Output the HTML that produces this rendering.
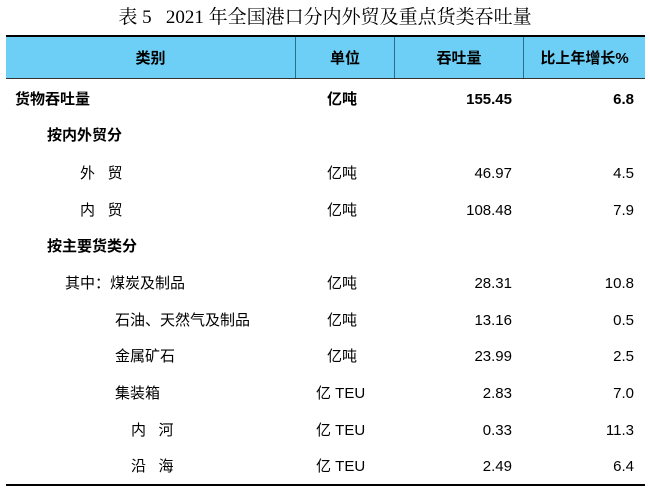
<!DOCTYPE html>
<html><head><meta charset="utf-8"><style>
body{margin:0;width:650px;height:493px;background:#fff;position:relative;overflow:hidden;font-family:"Liberation Sans","Noto Sans CJK SC",sans-serif;color:#000}
.t{position:absolute;white-space:nowrap;font-size:15px;line-height:18px}
.b{font-weight:bold}
.r{text-align:right}
</style></head><body>
<div class="t" style="left:0;width:650px;top:6px;text-align:center;font-family:'Liberation Serif','Noto Serif CJK SC',serif;font-size:19px;line-height:24px">表 5&nbsp;&nbsp;&nbsp;2021 年全国港口分内外贸及重点货类吞吐量</div>
<div style="position:absolute;left:6px;top:35px;width:639px;height:2px;background:#000"></div>
<div style="position:absolute;left:6px;top:37px;width:639px;height:42px;background:#6dcff6"></div>
<div style="position:absolute;left:295px;top:37px;width:1px;height:42px;background:#2a6f8a"></div>
<div style="position:absolute;left:394px;top:37px;width:1px;height:42px;background:#2a6f8a"></div>
<div style="position:absolute;left:523px;top:37px;width:1px;height:42px;background:#2a6f8a"></div>
<div class="t b" style="left:6px;width:289px;top:50px;text-align:center">类别</div>
<div class="t b" style="left:296px;width:98px;top:50px;text-align:center">单位</div>
<div class="t b" style="left:395px;width:128px;top:50px;text-align:center">吞吐量</div>
<div class="t b" style="left:524px;width:121px;top:50px;text-align:center">比上年增长%</div>
<div style="position:absolute;left:6px;top:78px;width:639px;height:1px;background:#333"></div>

<div class="t b" style="left:15px;top:91px">货物吞吐量</div>
<div class="t b" style="left:327px;top:91px">亿吨</div>
<div class="t b r" style="right:138px;top:91px">155.45</div>
<div class="t b r" style="right:16px;top:91px">6.8</div>

<div class="t b" style="left:47px;top:127px">按内外贸分</div>

<div class="t" style="left:80px;top:165px">外&nbsp;&nbsp;&nbsp;贸</div>
<div class="t" style="left:327px;top:165px">亿吨</div>
<div class="t r" style="right:138px;top:165px">46.97</div>
<div class="t r" style="right:16px;top:165px">4.5</div>

<div class="t" style="left:80px;top:202px">内&nbsp;&nbsp;&nbsp;贸</div>
<div class="t" style="left:327px;top:202px">亿吨</div>
<div class="t r" style="right:138px;top:202px">108.48</div>
<div class="t r" style="right:16px;top:202px">7.9</div>

<div class="t b" style="left:47px;top:238px">按主要货类分</div>

<div class="t" style="left:65px;top:275px">其中：煤炭及制品</div>
<div class="t" style="left:327px;top:275px">亿吨</div>
<div class="t r" style="right:138px;top:275px">28.31</div>
<div class="t r" style="right:16px;top:275px">10.8</div>

<div class="t" style="left:115px;top:312px">石油、天然气及制品</div>
<div class="t" style="left:327px;top:312px">亿吨</div>
<div class="t r" style="right:138px;top:312px">13.16</div>
<div class="t r" style="right:16px;top:312px">0.5</div>

<div class="t" style="left:115px;top:348px">金属矿石</div>
<div class="t" style="left:327px;top:348px">亿吨</div>
<div class="t r" style="right:138px;top:348px">23.99</div>
<div class="t r" style="right:16px;top:348px">2.5</div>

<div class="t" style="left:115px;top:385px">集装箱</div>
<div class="t" style="left:316px;top:385px">亿 TEU</div>
<div class="t r" style="right:138px;top:385px">2.83</div>
<div class="t r" style="right:16px;top:385px">7.0</div>

<div class="t" style="left:131px;top:422px">内&nbsp;&nbsp;&nbsp;河</div>
<div class="t" style="left:316px;top:422px">亿 TEU</div>
<div class="t r" style="right:138px;top:422px">0.33</div>
<div class="t r" style="right:16px;top:422px">11.3</div>

<div class="t" style="left:131px;top:458px">沿&nbsp;&nbsp;&nbsp;海</div>
<div class="t" style="left:316px;top:458px">亿 TEU</div>
<div class="t r" style="right:138px;top:458px">2.49</div>
<div class="t r" style="right:16px;top:458px">6.4</div>

<div style="position:absolute;left:6px;top:484px;width:639px;height:2px;background:#000"></div>
</body></html>
